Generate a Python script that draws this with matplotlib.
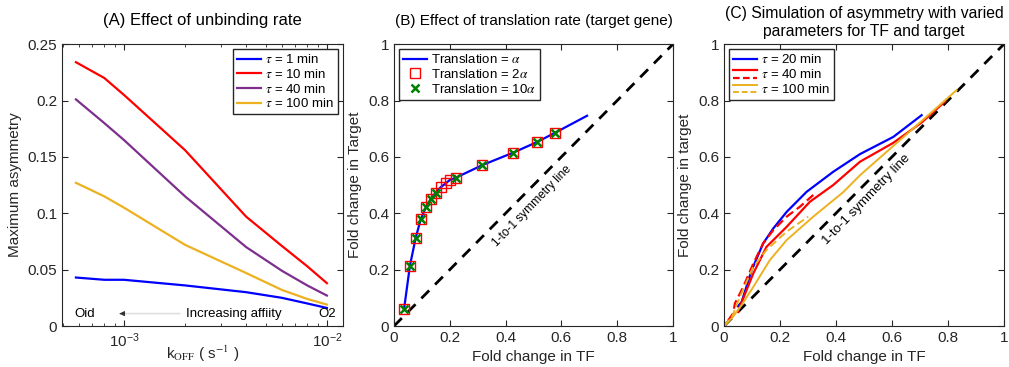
import matplotlib
matplotlib.use('Agg')
import matplotlib.pyplot as plt
from matplotlib.lines import Line2D
from matplotlib.legend_handler import HandlerBase
import numpy as np

plt.rcParams['font.family'] = ['Liberation Sans', 'DejaVu Sans']
plt.rcParams['mathtext.fontset'] = 'stix'

# ---- data panel A ----
koff = [5.8e-4, 8e-4, 1e-3, 2e-3, 4e-3, 6e-3, 8e-3, 1e-2]
asym_1 = [0.043, 0.041, 0.041, 0.036, 0.030, 0.025, 0.020, 0.016]
asym_10 = [0.234, 0.220, 0.205, 0.156, 0.097, 0.071, 0.053, 0.038]
asym_40 = [0.201, 0.180, 0.165, 0.115, 0.070, 0.049, 0.036, 0.027]
asym_100 = [0.127, 0.115, 0.105, 0.072, 0.047, 0.032, 0.024, 0.019]

# ---- data panel B ----
tf_b = [0.036, 0.057, 0.078, 0.096, 0.114, 0.131, 0.149, 0.167, 0.185, 0.200,
        0.221, 0.317, 0.427, 0.511, 0.578, 0.692]
tg_b = [0.060, 0.214, 0.314, 0.379, 0.421, 0.449, 0.473, 0.492, 0.506, 0.518,
        0.526, 0.571, 0.615, 0.652, 0.686, 0.746]
sq_tf = [0.036, 0.057, 0.078, 0.096, 0.114, 0.131, 0.149, 0.167, 0.185, 0.200,
         0.221, 0.317, 0.427, 0.511, 0.578]
sq_tg = [0.060, 0.214, 0.314, 0.379, 0.421, 0.449, 0.473, 0.492, 0.506, 0.518,
         0.526, 0.571, 0.615, 0.652, 0.686]
x_tf = [0.036, 0.057, 0.078, 0.096, 0.114, 0.131, 0.149, 0.221, 0.317, 0.427,
        0.511, 0.578]
x_tg = [0.060, 0.214, 0.314, 0.379, 0.421, 0.449, 0.473, 0.526, 0.571, 0.615,
        0.652, 0.686]

# ---- data panel C ----
tf_20 = [0.05, 0.063, 0.099, 0.140, 0.176, 0.224, 0.295, 0.390, 0.486, 0.605, 0.706]
tg_20 = [0.07, 0.085, 0.198, 0.293, 0.346, 0.405, 0.476, 0.547, 0.610, 0.671, 0.748]
tf_40 = [0.05, 0.057, 0.105, 0.152, 0.224, 0.307, 0.390, 0.486, 0.605, 0.706, 0.790]
tg_40 = [0.05, 0.069, 0.187, 0.281, 0.352, 0.441, 0.500, 0.583, 0.650, 0.722, 0.797]
tf_40d = [0.015, 0.033, 0.039, 0.069, 0.105, 0.140, 0.176, 0.224, 0.271, 0.319]
tg_40d = [0.020, 0.045, 0.080, 0.139, 0.222, 0.293, 0.340, 0.388, 0.423, 0.465]
tf_100 = [0.0, 0.03, 0.06, 0.105, 0.164, 0.224, 0.319, 0.426, 0.486, 0.605, 0.724, 0.831]
tg_100 = [0.0, 0.03, 0.07, 0.139, 0.234, 0.305, 0.388, 0.475, 0.535, 0.639, 0.743, 0.837]
tf_100d = [0.0, 0.03, 0.057, 0.105, 0.152, 0.224, 0.301]
tg_100d = [0.0, 0.035, 0.104, 0.210, 0.270, 0.335, 0.388]

BLUE = (0, 0, 1)
RED = (1, 0, 0)
PURPLE = (0.494, 0.184, 0.556)
YELLOW = (0.929, 0.694, 0.125)
GREEN = (0, 0.5, 0)
TXT = '0.15'


class TwoLineHandler(HandlerBase):
    # legend entry with a solid line above a dashed one
    def create_artists(self, legend, orig_handle, xdescent, ydescent,
                       width, height, fontsize, trans):
        c = orig_handle.get_color()
        lw = orig_handle.get_linewidth()
        y1 = height * 0.85 - ydescent
        y2 = height * 0.05 - ydescent
        l1 = Line2D([-xdescent, width - xdescent], [y1, y1], color=c, lw=lw)
        l2 = Line2D([-xdescent, width - xdescent], [y2, y2], color=c, lw=lw,
                    linestyle=(0, (3, 1.5)))
        l1.set_transform(trans)
        l2.set_transform(trans)
        return [l1, l2]


def style(ax):
    ax.tick_params(direction='in', which='both', top=True, right=True,
                   labelsize=11, colors=TXT, labelcolor=TXT)
    ax.tick_params(which='major', length=4)
    for s in ax.spines.values():
        s.set_color(TXT)
        s.set_linewidth(0.8)


def legend(ax, *args, **kw):
    leg = ax.legend(*args, fontsize=9.5, fancybox=False, edgecolor='0.15',
                    framealpha=1, handlelength=1.8, borderaxespad=0.4,
                    labelspacing=0.12, borderpad=0.3, handletextpad=0.3, **kw)
    leg.get_frame().set_linewidth(1.0)
    return leg


fig = plt.figure(figsize=(10.09, 3.67), dpi=100)
axA = fig.add_axes([0.0614, 0.1117, 0.2785, 0.768])
axB = fig.add_axes([0.3905, 0.1117, 0.2765, 0.768])
axC = fig.add_axes([0.7175, 0.1117, 0.2775, 0.768])

# ---- panel A ----
axA.plot(koff, asym_1, color=BLUE, lw=1.6, label=r'$\tau$ = 1 min')
axA.plot(koff, asym_10, color=RED, lw=1.6, label=r'$\tau$ = 10 min')
axA.plot(koff, asym_40, color=PURPLE, lw=1.6, label=r'$\tau$ = 40 min')
axA.plot(koff, asym_100, color=YELLOW, lw=1.6, label=r'$\tau$ = 100 min')
axA.set_xscale('log')
axA.set_xlim(4.95e-4, 1.2e-2)
axA.set_ylim(0, 0.25)
axA.set_yticks([0, 0.05, 0.1, 0.15, 0.2, 0.25])
axA.set_yticklabels(['0', '0.05', '0.1', '0.15', '0.2', '0.25'])
style(axA)
axA.tick_params(axis='x', pad=4)
axA.set_xlabel(r'k$_{\mathrm{OFF}}$ ( s$^{-1}$ )', fontsize=11, color=TXT,
               labelpad=-4.5)
axA.set_ylabel('Maximum asymmetry', fontsize=11, color=TXT)
axA.set_title('(A) Effect of unbinding rate', fontsize=12, pad=14)
axA.text(5.7e-4, 0.011, 'Oid', fontsize=9.5, va='center')
axA.text(1.0e-2, 0.011, 'O2', fontsize=9.5, va='center', ha='center')
axA.text(2.02e-3, 0.011, 'Increasing affiity', fontsize=9.5, va='center')
axA.annotate('', xy=(9.3e-4, 0.011), xytext=(1.95e-3, 0.011),
             arrowprops=dict(arrowstyle='-', color='0.88', lw=1.2))
axA.annotate('', xy=(9.2e-4, 0.011), xytext=(1.0e-3, 0.011),
             arrowprops=dict(arrowstyle='-|>', color='0.2', lw=0.8,
                             mutation_scale=7))
legend(axA, loc='upper right')

# ---- panel B ----
axB.plot([0, 1], [0, 1], color='k', lw=2, linestyle=(0, (4, 3)))
axB.plot(tf_b, tg_b, color=BLUE, lw=1.6, label=r'Translation = $\alpha$')
axB.plot(sq_tf, sq_tg, linestyle='none', marker='s', ms=6.5, mfc='none',
         mec=RED, mew=1.0, label=r'Translation = 2$\alpha$')
axB.plot(x_tf, x_tg, linestyle='none', marker='x', ms=6, mec=GREEN,
         mew=1.8, label=r'Translation = 10$\alpha$')
axB.set_xlim(0, 1)
axB.set_ylim(0, 1)
ticks = [0, 0.2, 0.4, 0.6, 0.8, 1]
tlab = ['0', '0.2', '0.4', '0.6', '0.8', '1']
axB.set_xticks(ticks)
axB.set_xticklabels(tlab)
axB.set_yticks(ticks)
axB.set_yticklabels(tlab)
style(axB)
axB.set_xlabel('Fold change in TF', fontsize=11, color=TXT)
axB.set_ylabel('Fold change in Target', fontsize=11, color=TXT)
axB.set_title('(B) Effect of translation rate (target gene)', fontsize=11, pad=14)
axB.text(0.495, 0.427, '1-to-1 symmetry line', fontsize=8.6, rotation=46,
         ha='center', va='center')
legend(axB, loc='upper left')

# ---- panel C ----
axC.plot([0, 1], [0, 1], color='k', lw=2, linestyle=(0, (4, 3)))
hC20, = axC.plot(tf_20, tg_20, color=BLUE, lw=1.6)
hC40, = axC.plot(tf_40, tg_40, color=RED, lw=1.6)
axC.plot(tf_40d, tg_40d, color=RED, lw=1.6, linestyle=(0, (4, 2)))
hC100, = axC.plot(tf_100, tg_100, color=YELLOW, lw=1.4)
axC.plot(tf_100d, tg_100d, color=YELLOW, lw=1.4, linestyle=(0, (4, 2)))
axC.set_xlim(0, 1)
axC.set_ylim(0, 1)
axC.set_xticks(ticks)
axC.set_xticklabels(tlab)
axC.set_yticks(ticks)
axC.set_yticklabels(tlab)
style(axC)
axC.set_xlabel('Fold change in TF', fontsize=11, color=TXT)
axC.set_ylabel('Fold change in target', fontsize=11, color=TXT)
axC.set_title('(C) Simulation of asymmetry with varied\nparameters for TF and target',
              fontsize=11.3, pad=6, linespacing=1.2)
axC.text(0.508, 0.447, '1-to-1 symmetry line', fontsize=9.5, rotation=46,
         ha='center', va='center')
legend(axC, [hC20, hC40, hC100],
       [r'$\tau$ = 20 min', r'$\tau$ = 40 min', r'$\tau$ = 100 min'],
       handler_map={hC40: TwoLineHandler(), hC100: TwoLineHandler()},
       loc='upper left')

fig.savefig('out.png', dpi=100)
